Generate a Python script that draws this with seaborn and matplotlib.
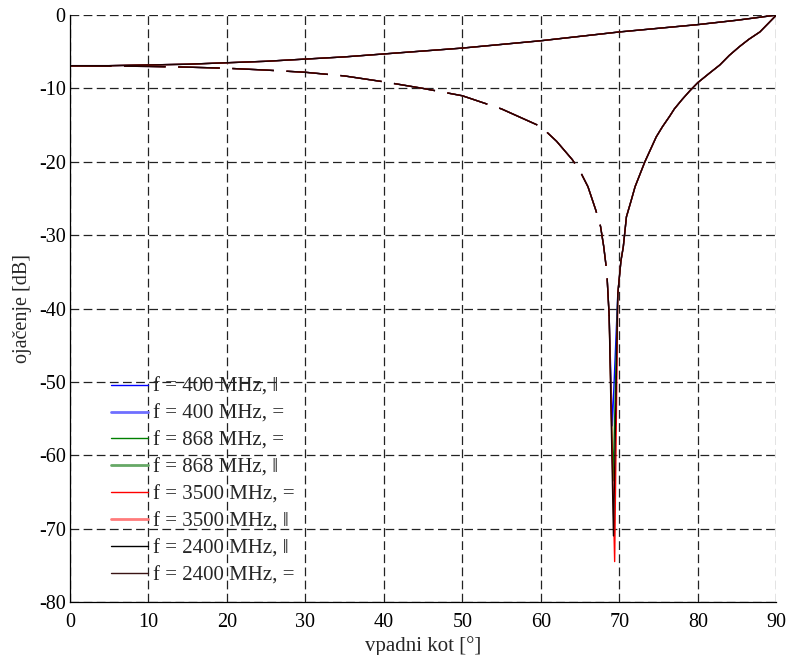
import numpy as np
import matplotlib
matplotlib.use("Agg")
import matplotlib.pyplot as plt
from matplotlib.lines import Line2D
import seaborn as sns

# perpendicular curve (upper, same for all frequencies)
perp_deg = [0, 5, 10, 15, 20, 25, 30, 35, 40, 45, 50, 55, 60, 65, 70, 75, 80, 85, 90]
perp_db = [-6.9, -6.9, -6.8, -6.7, -6.5, -6.3, -6.0, -5.7, -5.3, -4.9, -4.5, -4.0,
           -3.5, -2.9, -2.3, -1.8, -1.3, -0.7, 0.0]

# parallel curve, left branch (dashed) up to the Brewster angle
par_left_deg = [0, 5, 10, 15, 20, 25, 30, 35, 40, 45, 50, 55, 60, 62, 64, 65, 66,
                67, 67.6, 68.0, 68.4, 68.7]
par_left_db = [-6.9, -6.95, -7.0, -7.1, -7.25, -7.5, -7.8, -8.3, -9.1, -10.0, -11.0,
               -12.8, -15.2, -17.2, -19.7, -21.3, -23.4, -26.6, -28.8, -31.5, -35.0, -41.0]

# parallel curve, right branch after the Brewster angle
par_right_deg = [69.8, 70.2, 70.5, 70.9, 71.5, 72.0, 73.25, 74.7, 75.5, 76.4, 77.0,
                 78.0, 79.0, 80.0, 81.5, 82.8, 84.0, 85.3, 86.5, 87.9, 89.0, 90.0]
par_right_db = [-38.0, -33.5, -31.6, -27.5, -25.3, -23.4, -20.0, -16.6, -15.2, -13.8,
                -12.8, -11.5, -10.3, -9.2, -7.9, -6.8, -5.5, -4.3, -3.3, -2.3, -1.1, 0.0]

# Brewster null per frequency
null_deg = {400: 69.1, 868: 69.2, 3500: 69.4, 2400: 69.25}
null_db = {400: -56.0, 868: -63.5, 3500: -74.5, 2400: -71.0}

legend_labels = ["f = 400 MHz, \u2016", "f = 400 MHz, =", "f = 868 MHz, =",
                 "f = 868 MHz, \u2016", "f = 3500 MHz, =", "f = 3500 MHz, \u2016",
                 "f = 2400 MHz, \u2016", "f = 2400 MHz, ="]
legend_colors = ["#0000ff", "#6f6fff", "#008000", "#66a866", "#ff0000", "#ff7b7b",
                 "#000000", "#3a1414"]
legend_widths = [1.0, 2.0, 1.0, 2.0, 1.0, 2.0, 1.0, 1.0]

sns.set_theme(style="white")
plt.rcParams['font.family'] = ['Liberation Serif', 'DejaVu Serif']
plt.rcParams['font.size'] = 14.5
plt.rcParams['axes.unicode_minus'] = False

fig = plt.figure(figsize=(7.89, 6.55), dpi=100)
ax = fig.add_axes([0.0885, 0.081, 0.8955, 0.896])

dash = (0, (30, 9))
for freq, col in [(400, "#0000ff"), (868, "#008000"), (3500, "#ff0000"), (2400, "#200000")]:
    sns.lineplot(x=perp_deg, y=perp_db, ax=ax, color=col, lw=1.0)
    sns.lineplot(x=par_left_deg, y=par_left_db, ax=ax, color=col, lw=1.0, linestyle=dash)
    xs = [par_left_deg[-1], null_deg[freq]] + par_right_deg
    ys = [par_left_db[-1], null_db[freq]] + par_right_db
    sns.lineplot(x=xs, y=ys, ax=ax, color=col, lw=1.0)

ax.set_xlim(0, 90)
ax.set_ylim(-80, 0)
ax.set_xticks(np.arange(0, 91, 10))
ax.set_yticks(np.arange(-80, 1, 10))
ax.grid(True, color="#222222", linestyle=(0, (7, 3.5)), lw=0.9)
ax.tick_params(direction="in", length=5, labelsize=14.5, colors="black")
ax.tick_params(axis="x", pad=8)
ax.tick_params(axis="y", pad=3)
for s in ["top", "right"]:
    ax.spines[s].set_visible(False)
for s in ["left", "bottom"]:
    ax.spines[s].set_color("black")
    ax.spines[s].set_linewidth(0.9)
ax.set_xlabel("vpadni kot [°]", fontsize=15, labelpad=3)
ax.set_ylabel("ojačenje [dB]", fontsize=14.5, labelpad=5)

handles = [Line2D([], [], color=c, lw=w) for c, w in zip(legend_colors, legend_widths)]
ax.legend(handles, legend_labels, loc="upper left", bbox_to_anchor=(0.128, 0.4397),
          bbox_transform=fig.transFigure, frameon=False, fontsize=15,
          handlelength=1.78, handletextpad=0.2, labelspacing=0.35, borderpad=0)

fig.savefig("out.png", dpi=100)
